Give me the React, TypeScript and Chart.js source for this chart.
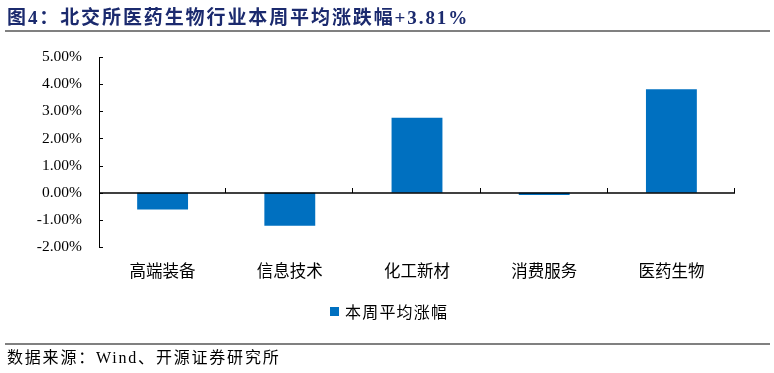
import React, { useEffect, useRef } from "react";
import { Chart, registerables } from "chart.js";

Chart.register(...registerables);

const categories = ["高端装备", "信息技术", "化工新材", "消费服务", "医药生物"];
const seriesName = "本周平均涨幅";
const seriesValues = [-0.62, -1.22, 2.76, -0.08, 3.81];
const yMin = -2;
const yMax = 5;
const yStep = 1;
const titleText = "图4：北交所医药生物行业本周平均涨跌幅+3.81%";
const sourceText = "数据来源：Wind、开源证券研究所";

const BAR_COLOR = "#0070C0";

const axisPlugin = {
  id: "customAxes",
  afterDatasetsDraw(chart: any) {
    const ctx = chart.ctx;
    const y = chart.scales.y;
    const area = chart.chartArea;
    ctx.save();
    ctx.strokeStyle = "#000";
    ctx.lineWidth = 1;
    ctx.beginPath();
    ctx.moveTo(area.left + 0.5, area.top);
    ctx.lineTo(area.left + 0.5, area.bottom);
    ctx.stroke();
    for (let v = yMin; v <= yMax + 1e-9; v += yStep) {
      const py = Math.round(y.getPixelForValue(v)) + 0.5;
      ctx.beginPath();
      ctx.moveTo(area.left, py);
      ctx.lineTo(area.left + 4, py);
      ctx.stroke();
    }
    const zy = Math.round(y.getPixelForValue(0));
    ctx.lineWidth = 1.5;
    ctx.beginPath();
    ctx.moveTo(area.left, zy);
    ctx.lineTo(area.right, zy);
    ctx.stroke();
    ctx.lineWidth = 1;
    const n = categories.length;
    const w = (area.right - area.left) / n;
    for (let i = 1; i <= n; i++) {
      const px = Math.round(area.left + i * w) - 0.5;
      ctx.beginPath();
      ctx.moveTo(px, zy);
      ctx.lineTo(px, zy - 5);
      ctx.stroke();
    }
    ctx.restore();
  },
};

export default function App() {
  const canvasRef = useRef<HTMLCanvasElement | null>(null);

  useEffect(() => {
    document.body.style.margin = "0";
    const canvas = canvasRef.current;
    if (!canvas) return;
    const chart = new Chart(canvas, {
      type: "bar",
      data: {
        labels: categories,
        datasets: [
          {
            label: seriesName,
            data: seriesValues,
            backgroundColor: BAR_COLOR,
            borderWidth: 0,
            categoryPercentage: 1,
            barPercentage: 0.4,
          },
        ],
      },
      options: {
        animation: false,
        responsive: false,
        maintainAspectRatio: false,
        devicePixelRatio: 1,
        layout: { padding: { left: 0, right: 39, top: 57, bottom: 0 } },
        plugins: {
          legend: { display: false },
          tooltip: { enabled: false },
          title: { display: false },
        },
        scales: {
          x: {
            type: "category",
            offset: true,
            grid: { display: false, drawTicks: false },
            border: { display: false },
            ticks: {
              padding: 14,
              color: "#000",
              font: { family: "'Noto Sans CJK SC', 'Liberation Serif', serif", size: 16.5 },
              maxRotation: 0,
            },
            afterFit(scale: any) {
              scale.height = 126;
            },
          },
          y: {
            min: yMin,
            max: yMax,
            grid: { display: false, drawTicks: false },
            border: { display: false },
            ticks: {
              stepSize: yStep,
              padding: 17,
              color: "#000",
              font: { family: "'Liberation Serif', 'Times New Roman', serif", size: 15.5 },
              callback: (v: any) => Number(v).toFixed(2) + "%",
            },
            afterFit(scale: any) {
              scale.width = 99;
            },
          },
        },
      },
      plugins: [axisPlugin],
    });
    return () => chart.destroy();
  }, []);

  return (
    <div style={{ position: "fixed", left: 0, top: 0, width: 774, height: 373, background: "#fff", overflow: "hidden" }}>
      <canvas ref={canvasRef} width={774} height={373} style={{ position: "absolute", left: 0, top: 0, width: 774, height: 373 }} />
      <div
        style={{
          position: "absolute",
          left: 7,
          top: 5,
          fontFamily: "'Liberation Serif', 'Noto Sans CJK SC', serif",
          fontWeight: "bold",
          fontSize: 19,
          letterSpacing: 1.9,
          lineHeight: "25px",
          color: "#1B2A6E",
          whiteSpace: "nowrap",
        }}
      >
        {titleText}
      </div>
      <div style={{ position: "absolute", left: 5, top: 30, width: 765, height: 2, background: "#808080" }} />
      <div
        style={{
          position: "absolute",
          left: 330,
          top: 299,
          display: "flex",
          alignItems: "center",
          fontFamily: "'Noto Sans CJK SC', serif",
          fontSize: 16,
          color: "#000",
          whiteSpace: "nowrap",
        }}
      >
        <span style={{ display: "inline-block", width: 9, height: 9, background: BAR_COLOR, marginRight: 6 }} />
        <span style={{ letterSpacing: 1.2 }}>{seriesName}</span>
      </div>
      <div style={{ position: "absolute", left: 5, top: 343, width: 765, height: 2, background: "#808080" }} />
      <div
        style={{
          position: "absolute",
          left: 7,
          top: 348,
          fontFamily: "'Liberation Serif', 'Noto Sans CJK SC', serif",
          fontSize: 16,
          letterSpacing: 1.8,
          lineHeight: "20px",
          color: "#000",
          whiteSpace: "nowrap",
        }}
      >
        {sourceText}
      </div>
    </div>
  );
}
